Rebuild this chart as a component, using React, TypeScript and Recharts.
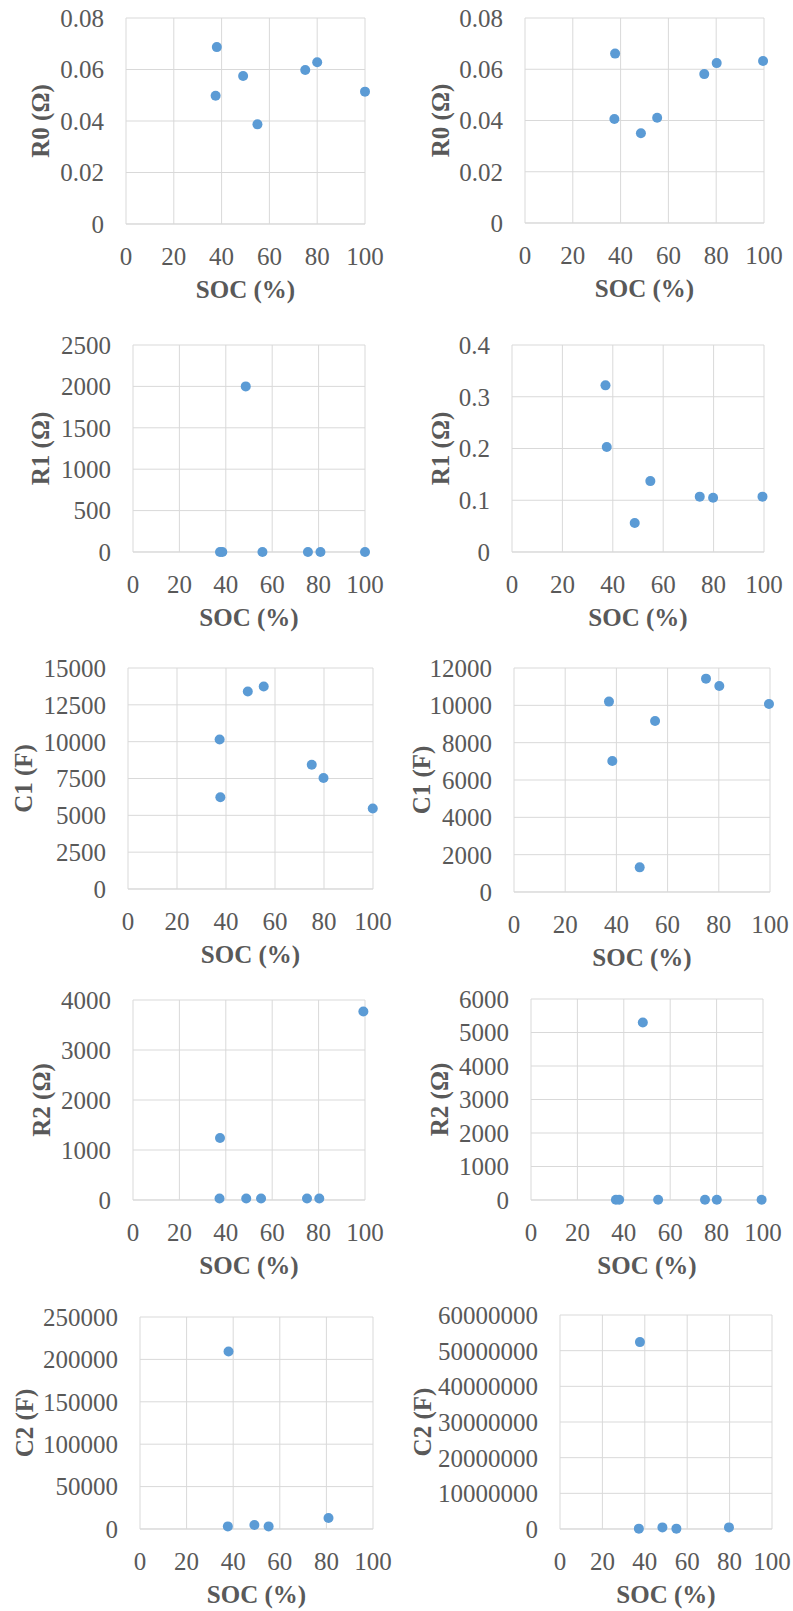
import { CartesianGrid, Scatter, ScatterChart, XAxis, YAxis } from "recharts";

const socTicks = [0, 20, 40, 60, 80, 100];

// R0
const r0LeftSoc = [38, 37.5, 49, 55, 75, 80, 100];
const r0LeftValues = [0.0687, 0.0498, 0.0575, 0.0387, 0.0598, 0.0628, 0.0514];
const r0RightSoc = [37.7, 37.4, 48.5, 55.3, 75, 80.2, 99.6];
const r0RightValues = [0.0661, 0.0406, 0.035, 0.0411, 0.0581, 0.0624, 0.0632];
const r0Ticks = [0, 0.02, 0.04, 0.06, 0.08];

// R1
const r1LeftSoc = [37.5, 38.5, 48.6, 55.8, 75.4, 80.8, 100];
const r1LeftValues = [0.3, 0.2, 2000, 0.14, 0.11, 0.1, 0.1];
const r1LeftTicks = [0, 500, 1000, 1500, 2000, 2500];
const r1RightSoc = [37.1, 37.6, 48.7, 54.9, 74.5, 79.8, 99.4];
const r1RightValues = [0.322, 0.203, 0.056, 0.137, 0.107, 0.105, 0.107];
const r1RightTicks = [0, 0.1, 0.2, 0.3, 0.4];

// C1
const c1LeftSoc = [37.4, 37.7, 48.9, 55.4, 75, 79.8, 99.9];
const c1LeftValues = [10150, 6230, 13400, 13740, 8430, 7530, 5460];
const c1LeftTicks = [0, 2500, 5000, 7500, 10000, 12500, 15000];
const c1RightSoc = [37.1, 38.4, 49.1, 55.1, 75, 80.2, 99.6];
const c1RightValues = [10200, 7020, 1320, 9160, 11430, 11040, 10070];
const c1RightTicks = [0, 2000, 4000, 6000, 8000, 10000, 12000];

// R2
const r2LeftSoc = [37.5, 37.3, 48.8, 55.2, 75, 80.3, 99.3];
const r2LeftValues = [1240, 30, 30, 30, 30, 30, 3770];
const r2LeftTicks = [0, 1000, 2000, 3000, 4000];
const r2RightSoc = [36.6, 38, 48.2, 54.8, 75, 80.1, 99.4];
const r2RightValues = [10, 10, 5300, 10, 10, 10, 10];
const r2RightTicks = [0, 1000, 2000, 3000, 4000, 5000, 6000];

// C2
const c2LeftSoc = [38, 37.7, 49.1, 55.2, 80.9];
const c2LeftValues = [209300, 3060, 4700, 3060, 12900];
const c2LeftTicks = [0, 50000, 100000, 150000, 200000, 250000];
const c2RightSoc = [37.7, 37.2, 48.3, 54.9, 79.7];
const c2RightValues = [52400000, 100000, 450000, 100000, 450000];
const c2RightTicks = [0, 10000000, 20000000, 30000000, 40000000, 50000000, 60000000];

type Panel = {
  title: string;
  soc: number[];
  values: number[];
  yTicks: number[];
  column: number;
  plot: [number, number, number, number]; // left, top, right, bottom (page px)
  titleX: number;
};

const panels: Panel[] = [
  { title: "R0 (Ω)", soc: r0LeftSoc, values: r0LeftValues, yTicks: r0Ticks, column: 0, plot: [126, 18, 365, 224], titleX: 41 },
  { title: "R0 (Ω)", soc: r0RightSoc, values: r0RightValues, yTicks: r0Ticks, column: 1, plot: [525, 18, 764, 223], titleX: 45 },
  { title: "R1 (Ω)", soc: r1LeftSoc, values: r1LeftValues, yTicks: r1LeftTicks, column: 0, plot: [133, 345, 365, 552], titleX: 41 },
  { title: "R1 (Ω)", soc: r1RightSoc, values: r1RightValues, yTicks: r1RightTicks, column: 1, plot: [512, 345, 764, 552], titleX: 45 },
  { title: "C1 (F)", soc: c1LeftSoc, values: c1LeftValues, yTicks: c1LeftTicks, column: 0, plot: [128, 668, 373, 889], titleX: 24 },
  { title: "C1 (F)", soc: c1RightSoc, values: c1RightValues, yTicks: c1RightTicks, column: 1, plot: [514, 668, 770, 892], titleX: 26 },
  { title: "R2 (Ω)", soc: r2LeftSoc, values: r2LeftValues, yTicks: r2LeftTicks, column: 0, plot: [133, 1000, 365, 1200], titleX: 42 },
  { title: "R2 (Ω)", soc: r2RightSoc, values: r2RightValues, yTicks: r2RightTicks, column: 1, plot: [531, 999, 763, 1200], titleX: 44 },
  { title: "C2 (F)", soc: c2LeftSoc, values: c2LeftValues, yTicks: c2LeftTicks, column: 0, plot: [140, 1317, 373, 1529], titleX: 25 },
  { title: "C2 (F)", soc: c2RightSoc, values: c2RightValues, yTicks: c2RightTicks, column: 1, plot: [560, 1315, 772, 1529], titleX: 27 },
];

const textColor = "#595959";
const gridColor = "#d9d9d9";
const markerColor = "#5b9bd5";
const fontFamily = "'Liberation Serif', 'Times New Roman', serif";
const xAxisHeight = 74;

const dot = (props: any) => <circle cx={props.cx} cy={props.cy} r={5} fill={markerColor} />;

function ParamScatter({ panel }: { panel: Panel }) {
  const colX = panel.column === 0 ? 0 : 396;
  const colW = panel.column === 0 ? 396 : 397;
  const [left, top, right, bottom] = panel.plot;
  const chartTop = top - 20;
  const chartH = bottom + xAxisHeight + 10 - chartTop;
  const rows = panel.soc.map((soc, i) => ({ soc, value: panel.values[i] }));
  const yTitle = (props: any) => {
    const vb = props.viewBox ?? {};
    const cy = (vb.y ?? 0) + (vb.height ?? 0) / 2;
    const x = panel.titleX + 8;
    return (
      <text
        x={x}
        y={cy}
        transform={`rotate(-90 ${x} ${cy})`}
        textAnchor="middle"
        fill={textColor}
        fontFamily={fontFamily}
        fontSize={25}
        fontWeight="bold"
      >
        {panel.title}
      </text>
    );
  };
  return (
    <div style={{ position: "absolute", left: colX, top: chartTop, width: colW, height: chartH }}>
      <ScatterChart
        width={colW}
        height={chartH}
        margin={{ top: top - chartTop, right: colX + colW - right, bottom: 10, left: 0 }}
      >
        <CartesianGrid stroke={gridColor} strokeWidth={1} />
        <XAxis
          dataKey="soc"
          type="number"
          domain={[0, 100]}
          ticks={socTicks}
          interval={0}
          height={xAxisHeight}
          axisLine={{ stroke: gridColor }}
          tickLine={false}
          tickSize={0}
          tickMargin={23}
          tick={{ fill: textColor, fontSize: 25, fontFamily }}
          label={{
            value: "SOC (%)",
            position: "insideBottom",
            offset: 0,
            fill: textColor,
            fontSize: 25,
            fontFamily,
            fontWeight: "bold",
          }}
        />
        <YAxis
          dataKey="value"
          type="number"
          domain={[panel.yTicks[0], panel.yTicks[panel.yTicks.length - 1]]}
          ticks={panel.yTicks}
          interval={0}
          width={left - colX}
          axisLine={false}
          tickLine={false}
          tickSize={0}
          tickMargin={22}
          tick={{ fill: textColor, fontSize: 25, fontFamily }}
          label={yTitle}
        />
        <Scatter data={rows} shape={dot} isAnimationActive={false} />
      </ScatterChart>
    </div>
  );
}

export default function App() {
  return (
    <div style={{ position: "absolute", left: 0, top: 0, width: 793, height: 1611, background: "#fff" }}>
      {panels.map((panel, i) => (
        <ParamScatter key={i} panel={panel} />
      ))}
    </div>
  );
}
